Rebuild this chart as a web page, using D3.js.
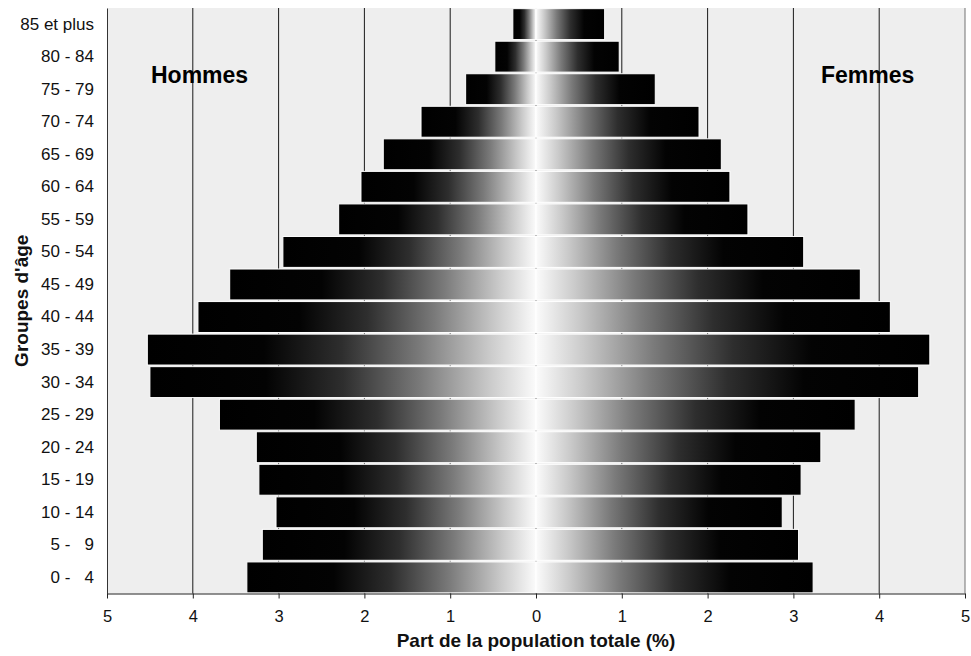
<!DOCTYPE html>
<html><head><meta charset="utf-8">
<script src="https://cdn.jsdelivr.net/npm/d3@7"></script>
<style>
html,body{margin:0;padding:0;background:#fff;}
svg{display:block;font-family:"Liberation Sans",Arial,sans-serif;}
</style>
</head><body>
<div id="chart"></div>
<script>
const ageGroups = ["0 - \u20074","5 - \u20079","10 - 14","15 - 19","20 - 24","25 - 29","30 - 34","35 - 39","40 - 44","45 - 49","50 - 54","55 - 59","60 - 64","65 - 69","70 - 74","75 - 79","80 - 84","85 et plus"];
const hommes = [3.37, 3.19, 3.03, 3.23, 3.26, 3.69, 4.50, 4.53, 3.94, 3.57, 2.95, 2.30, 2.04, 1.78, 1.34, 0.82, 0.48, 0.27];
const femmes = [3.23, 3.06, 2.87, 3.09, 3.32, 3.72, 4.46, 4.59, 4.13, 3.78, 3.12, 2.47, 2.26, 2.16, 1.90, 1.39, 0.97, 0.80];
const xTicks = [-5,-4,-3,-2,-1,0,1,2,3,4,5];

const W = 971, H = 656;
const L = 107, R = 965, T = 8, B = 593.5;

const svg = d3.select("#chart").append("svg").attr("width", W).attr("height", H);

const x = d3.scaleLinear().domain([-5, 5]).range([L, R]);
const y = d3.scaleBand().domain(ageGroups.slice().reverse()).range([T, B]).paddingInner(0.05).paddingOuter(0.02);

// gradients
const defs = svg.append("defs");
const stops = [[0,"#000"],[0.3,"#030303"],[0.5,"#2e2e2e"],[0.7,"#7a7a7a"],[0.88,"#cacaca"],[1,"#fbfbfb"]];
const gm = defs.append("linearGradient").attr("id","gm").attr("x1","0").attr("x2","1").attr("y1","0").attr("y2","0");
stops.forEach(s => gm.append("stop").attr("offset", s[0]).attr("stop-color", s[1]));
const gw = defs.append("linearGradient").attr("id","gw").attr("x1","1").attr("x2","0").attr("y1","0").attr("y2","0");
stops.forEach(s => gw.append("stop").attr("offset", s[0]).attr("stop-color", s[1]));

// plot background
svg.append("rect").attr("x", L).attr("y", T).attr("width", R - L).attr("height", B - T).attr("fill", "#eeeeee");

// gridlines
svg.append("g").selectAll("line").data(xTicks.filter(d => d > -5 && d < 5)).join("line")
  .attr("x1", d => x(d)).attr("x2", d => x(d)).attr("y1", T).attr("y2", B)
  .attr("stroke", "#1a1a1a").attr("stroke-width", 1);
svg.append("line").attr("x1", R).attr("x2", R).attr("y1", T).attr("y2", B).attr("stroke", "#888").attr("stroke-width", 1.2);

// bars
const data = ageGroups.map((a, i) => ({age: a, h: hommes[i], f: femmes[i]}));
const bars = svg.append("g");
bars.selectAll("rect.m").data(data).join("rect").attr("class","m")
  .attr("x", d => x(-d.h)).attr("width", d => x(0) - x(-d.h))
  .attr("y", d => y(d.age)).attr("height", y.bandwidth())
  .attr("fill", "url(#gm)").attr("stroke", "#fff").attr("stroke-width", 1);
bars.selectAll("rect.f").data(data).join("rect").attr("class","f")
  .attr("x", x(0)).attr("width", d => x(d.f) - x(0))
  .attr("y", d => y(d.age)).attr("height", y.bandwidth())
  .attr("fill", "url(#gw)").attr("stroke", "#fff").attr("stroke-width", 1);

// axes
const xAxis = svg.append("g").attr("transform", `translate(0,${B})`)
  .call(d3.axisBottom(x).tickValues(xTicks).tickFormat(d => Math.abs(d)).tickSize(5).tickSizeOuter(0));
xAxis.select(".domain").attr("stroke", "#222");
xAxis.selectAll(".tick line").attr("stroke", "#222");
xAxis.selectAll(".tick text").attr("font-size", 16.5).attr("fill", "#111").attr("dy", null).attr("y", 28.5)
  .attr("font-family", "'Liberation Sans', Arial, sans-serif");

const yAxis = svg.append("g").attr("transform", `translate(${L},0)`)
  .call(d3.axisLeft(y).tickSize(0).tickPadding(13));
yAxis.select(".domain").attr("stroke", "#333");
yAxis.selectAll(".tick text").attr("font-size", 17).attr("fill", "#111")
  .attr("font-family", "'Liberation Sans', Arial, sans-serif").style("white-space", "pre");

// titles
svg.append("text").attr("x", x(0)).attr("y", 647).attr("text-anchor", "middle")
  .attr("font-size", 19).attr("font-weight", "bold").attr("fill", "#111")
  .text("Part de la population totale (%)");
svg.append("text").attr("transform", `translate(28,${(T + B) / 2}) rotate(-90)`).attr("text-anchor", "middle")
  .attr("font-size", 19).attr("font-weight", "bold").attr("fill", "#111")
  .text("Groupes d'âge");
svg.append("text").attr("x", 151).attr("y", 83).attr("font-size", 23).attr("font-weight", "bold").attr("fill", "#000").text("Hommes");
svg.append("text").attr("x", 821).attr("y", 83).attr("font-size", 23).attr("font-weight", "bold").attr("fill", "#000").text("Femmes");
</script>
</body></html>
